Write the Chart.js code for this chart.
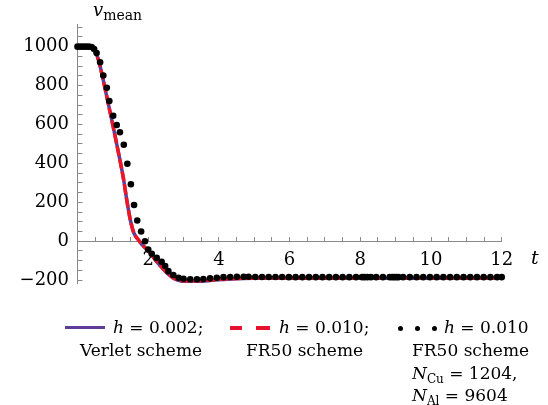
<!DOCTYPE html>
<html>
<head>
<meta charset="utf-8">
<script src="https://cdn.jsdelivr.net/npm/chart.js@4.4.0/dist/chart.umd.min.js"></script>
<style>
  body { margin: 0; background: #fff; }
  #wrap { position: relative; width: 548px; height: 405px; font-family: 'DejaVu Serif', serif; color: #000; }
  #wrap canvas { position: absolute; left: 0; top: 0; }
  .lbl { position: absolute; white-space: nowrap; font-size: 17px; line-height: 23px; }
  .lbl i, .ttl i { font-style: italic; }
  .sub { font-size: 12px; position: relative; top: 4px; }
  .ttl { position: absolute; white-space: nowrap; }
  .sw { position: absolute; }
</style>
</head>
<body>
<div id="wrap">
  <canvas id="chart" width="548" height="405"></canvas>

  <div class="ttl" style="left:93px; top:0px; font-size:18px; line-height:20px;"><i>v</i><span style="font-size:14px; position:relative; top:4px;">mean</span></div>
  <div class="ttl" style="left:531px; top:246px; font-size:19px; line-height:22px;"><i>t</i></div>

  <div class="sw" style="left:65px; top:326px; width:40px; height:3px; background:#5e3c99;"></div>
  <div class="lbl" style="left:113px; top:316px;"><i>h</i> = 0.002;</div>
  <div class="lbl" style="left:80px; top:339px;">Verlet scheme</div>

  <div class="sw" style="left:230px; top:326px; width:12px; height:4px; background:#e8112d;"></div>
  <div class="sw" style="left:256px; top:326px; width:14px; height:4px; background:#e8112d;"></div>
  <div class="lbl" style="left:279px; top:316px;"><i>h</i> = 0.010;</div>
  <div class="lbl" style="left:246px; top:339px;">FR50 scheme</div>

  <div class="sw" style="left:398px; top:326px; width:5px; height:5px; border-radius:50%; background:#000;"></div>
  <div class="sw" style="left:415px; top:326px; width:5px; height:5px; border-radius:50%; background:#000;"></div>
  <div class="sw" style="left:432px; top:326px; width:5px; height:5px; border-radius:50%; background:#000;"></div>
  <div class="lbl" style="left:444px; top:316px;"><i>h</i> = 0.010</div>
  <div class="lbl" style="left:412px; top:339px;">FR50 scheme</div>
  <div class="lbl" style="left:412px; top:362px;"><i>N</i><span class="sub">Cu</span> = 1204,</div>
  <div class="lbl" style="left:412px; top:384px;"><i>N</i><span class="sub">Al</span> = 9604</div>
</div>

<script>
// time grid for the two solid/dashed curves
const lineT = [0, 0.1, 0.2, 0.3, 0.4, 0.5, 0.6, 0.7, 0.8, 0.9, 1.0, 1.1, 1.2, 1.3, 1.4, 1.5,
  1.6, 1.7, 1.8, 1.9, 2.0, 2.1, 2.2, 2.3, 2.4, 2.5, 2.6, 2.7, 2.8, 2.9, 3.0, 3.2, 3.4, 3.6,
  3.8, 4.0, 4.5, 5, 6, 7, 8, 9, 10, 11, 12];

// h = 0.002, Verlet scheme
const verletV = [1000, 1000, 1000, 1000, 997, 975, 928, 852, 768, 683, 597, 508, 418, 322, 205, 105,
  40, 12, -12, -32, -50, -72, -96, -118, -138, -158, -175, -189, -198, -204, -207, -209, -208, -205,
  -201, -198, -193, -191, -190, -190, -190, -190, -190, -190, -190];

// h = 0.010, FR50 scheme
const fr50V = [1000, 1000, 1000, 1000, 997, 975, 927, 851, 767, 682, 596, 507, 417, 321, 204, 104,
  40, 12, -12, -31, -49, -71, -95, -117, -137, -157, -174, -187, -196, -201, -204, -205, -204, -202,
  -199, -196, -192, -190, -189, -189, -189, -189, -189, -189, -189];

// h = 0.010, FR50 scheme, N_Cu = 1204, N_Al = 9604 (dots)
const dotT = [0, 0.08, 0.16, 0.24, 0.32, 0.40, 0.47, 0.54, 0.64, 0.73, 0.83, 0.90, 1.01, 1.11,
  1.20, 1.31, 1.41, 1.51, 1.60, 1.69, 1.80, 1.91, 2.00, 2.10, 2.24, 2.38, 2.48, 2.57, 2.71, 2.86,
  3.00, 3.19, 3.38, 3.56, 3.75, 3.94, 4.13, 4.32, 4.51, 4.70, 4.84, 5.03, 5.22, 5.41, 5.60, 5.79,
  5.98, 6.17, 6.36, 6.55, 6.74, 6.93, 7.12, 7.31, 7.50, 7.69, 7.88, 8.05, 8.12, 8.20, 8.30, 8.45,
  8.64, 8.83, 8.90, 8.96, 9.02, 9.08, 9.21, 9.40, 9.59, 9.78, 9.97, 10.16, 10.35, 10.54, 10.73,
  10.92, 11.11, 11.30, 11.49, 11.68, 11.87, 12.0];
const dotV = [1000, 1000, 1000, 1000, 1000, 998, 988, 967, 920, 852, 789, 721, 645, 597,
  560, 496, 398, 293, 186, 106, 50, 0, -43, -65, -86, -106, -128, -154, -174, -188,
  -193, -196, -196, -195, -191, -188, -185, -184, -183, -183, -183, -184, -184, -184, -184, -184,
  -185, -185, -185, -185, -185, -185, -185, -185, -185, -185, -185, -185, -185, -185, -185, -185,
  -185, -185, -185, -185, -185, -185, -185, -185, -185, -185, -185, -185, -185, -185, -185,
  -185, -185, -185, -185, -185, -185, -185];

const xTicks = [0.5, 1, 1.5, 2, 2.5, 3, 3.5, 4, 4.5, 5, 5.5, 6, 6.5, 7, 7.5, 8, 8.5, 9, 9.5,
  10, 10.5, 11, 11.5, 12];
const xLabels = [2, 4, 6, 8, 10, 12];
const yTicks = [-200, -150, -100, -50, 0, 50, 100, 150, 200, 250, 300, 350, 400, 450, 500, 550,
  600, 650, 700, 750, 800, 850, 900, 950, 1000, 1050, 1100];
const yLabels = [-200, 0, 200, 400, 600, 800, 1000];

const axisGray = '#8a8a8a';
const tickFont = { family: 'DejaVu Serif', size: 18 };

function pts (xs, ys) {
  const out = [];
  for (let i = 0; i < xs.length; i++) {
    out.push({ x: xs[i], y: ys[i] });
  }
  return out;
}

const ctx = document.getElementById('chart').getContext('2d');
new Chart(ctx, {
  type: 'scatter',
  data: {
    datasets: [
      {
        label: 'h = 0.010 FR50 scheme N',
        data: pts(dotT, dotV),
        showLine: false,
        pointRadius: 3.3,
        pointBorderWidth: 0,
        pointBackgroundColor: '#000',
        clip: false
      },
      {
        label: 'h = 0.010; FR50 scheme',
        data: pts(lineT, fr50V),
        showLine: true,
        borderColor: '#f01525',
        borderWidth: 3.5,
        borderDash: [10, 3],
        pointRadius: 0,
        cubicInterpolationMode: 'monotone'
      },
      {
        label: 'h = 0.002; Verlet scheme',
        data: pts(lineT, verletV),
        showLine: true,
        borderColor: '#5a3f9e',
        borderWidth: 3.5,
        pointRadius: 0,
        cubicInterpolationMode: 'monotone'
      }
    ]
  },
  options: {
    responsive: false,
    animation: false,
    events: [],
    layout: {
      padding: { left: 7.5, right: 46.3, top: 22.7, bottom: 122 }
    },
    plugins: {
      legend: { display: false },
      tooltip: { enabled: false }
    },
    scales: {
      x: {
        type: 'linear',
        min: 0,
        max: 12,
        position: { y: 0 },
        afterBuildTicks: s => { s.ticks = xTicks.map(v => ({ value: v })); },
        ticks: {
          autoSkip: false,
          maxRotation: 0,
          padding: 13,
          color: '#000',
          font: tickFont,
          callback: v => xLabels.includes(v) ? String(v) : ''
        },
        grid: { drawOnChartArea: false, tickLength: -5, tickColor: axisGray, tickWidth: 1 },
        border: { color: axisGray, width: 1 }
      },
      y: {
        type: 'linear',
        min: -215,
        max: 1115,
        position: 'left',
        afterFit: s => { s.width = 70; },
        afterBuildTicks: s => { s.ticks = yTicks.map(v => ({ value: v })); },
        ticks: {
          autoSkip: false,
          padding: 13.5,
          color: '#000',
          font: tickFont,
          callback: v => yLabels.includes(v) ? (v < 0 ? '\u2212' + Math.abs(v) : String(v)) : ''
        },
        grid: { drawOnChartArea: false, tickLength: -5, tickColor: axisGray, tickWidth: 1 },
        border: { color: axisGray, width: 1 }
      }
    }
  }
});
</script>
</body>
</html>
